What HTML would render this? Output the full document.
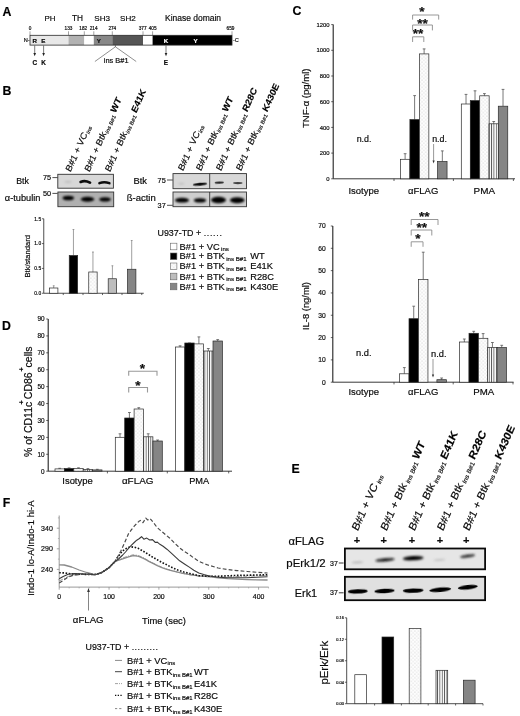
<!DOCTYPE html>
<html lang="en"><head><meta charset="utf-8"><title>Figure</title>
<style>
html,body{margin:0;padding:0;background:#fff;}
body{width:520px;height:716px;overflow:hidden;}
svg{display:block;filter:blur(0.35px);font-family:'Liberation Sans',sans-serif;}
svg{fill:#0a0a0a;}
svg text{stroke:#0a0a0a;stroke-width:0.18px;}
</style></head><body>
<svg width="520" height="716" viewBox="0 0 520 716">
<rect width="520" height="716" fill="#fff"/>
<defs>
<pattern id="dots" width="3.6" height="3.6" patternUnits="userSpaceOnUse"><rect width="3.6" height="3.6" fill="#fdfdfd"/><circle cx="0.9" cy="0.9" r="0.55" fill="#bdbdbd"/><circle cx="2.7" cy="2.7" r="0.55" fill="#cacaca"/></pattern>
<pattern id="vstr" width="2.35" height="4" patternUnits="userSpaceOnUse"><rect width="2.35" height="4" fill="#fff"/><rect x="0" y="0" width="0.85" height="4" fill="#555"/></pattern>
<filter id="b1" x="-30%" y="-100%" width="160%" height="300%"><feGaussianBlur stdDeviation="0.9"/></filter>
<filter id="b2" x="-30%" y="-100%" width="160%" height="300%"><feGaussianBlur stdDeviation="0.6"/></filter>
</defs>
<text x="2.4" y="16.2" font-size="12.3" font-weight="bold" fill="#000">A</text>
<text x="44.5" y="21.2" font-size="7.92">PH</text>
<text x="72" y="21.2" font-size="8.25">TH</text>
<text x="94.3" y="21.2" font-size="8.07">SH3</text>
<text x="120" y="21.2" font-size="8.07">SH2</text>
<text x="165" y="21.2" font-size="8.47">Kinase domain</text>
<rect x="30" y="35.3" width="38.5" height="9.8" fill="#e8e8e8" stroke="none" stroke-width="0"/>
<rect x="68.5" y="35.3" width="15.8" height="9.8" fill="#b2b2b2" stroke="none" stroke-width="0"/>
<rect x="84.3" y="35.3" width="9.5" height="9.8" fill="#fff" stroke="none" stroke-width="0"/>
<rect x="93.8" y="35.3" width="18.5" height="9.8" fill="#888" stroke="none" stroke-width="0"/>
<rect x="112.3" y="35.3" width="30.7" height="9.8" fill="#555" stroke="none" stroke-width="0"/>
<rect x="143" y="35.3" width="9.6" height="9.8" fill="#fff" stroke="none" stroke-width="0"/>
<rect x="152.6" y="35.3" width="79.4" height="9.8" fill="#000" stroke="none" stroke-width="0"/>
<rect x="30" y="35.3" width="202" height="9.8" fill="none" stroke="#2a2a2a" stroke-width="0.8"/>
<line x1="30" y1="31.3" x2="30" y2="35" stroke="#444" stroke-width="0.5"/>
<text x="30" y="30" font-size="4.7" text-anchor="middle">0</text>
<line x1="68.5" y1="31.3" x2="68.5" y2="35" stroke="#444" stroke-width="0.5"/>
<text x="68.5" y="30" font-size="4.7" text-anchor="middle">133</text>
<line x1="84.3" y1="31.3" x2="84.3" y2="35" stroke="#444" stroke-width="0.5"/>
<text x="83.2" y="30" font-size="4.7" text-anchor="middle">182</text>
<line x1="93.8" y1="31.3" x2="93.8" y2="35" stroke="#444" stroke-width="0.5"/>
<text x="93.6" y="30" font-size="4.7" text-anchor="middle">214</text>
<line x1="112.3" y1="31.3" x2="112.3" y2="35" stroke="#444" stroke-width="0.5"/>
<text x="112.3" y="30" font-size="4.7" text-anchor="middle">274</text>
<line x1="143" y1="31.3" x2="143" y2="35" stroke="#444" stroke-width="0.5"/>
<text x="142.6" y="30" font-size="4.7" text-anchor="middle">377</text>
<line x1="152.6" y1="31.3" x2="152.6" y2="35" stroke="#444" stroke-width="0.5"/>
<text x="152.6" y="30" font-size="4.7" text-anchor="middle">405</text>
<line x1="232" y1="31.3" x2="232" y2="35" stroke="#444" stroke-width="0.5"/>
<text x="230.5" y="30" font-size="4.7" text-anchor="middle">659</text>
<text x="23.8" y="42.2" font-size="5.6">N-</text>
<text x="233" y="42.2" font-size="5.6">-C</text>
<text x="34.7" y="42.6" font-size="6.2" text-anchor="middle" font-weight="bold">R</text>
<text x="43.4" y="42.6" font-size="6.2" text-anchor="middle" font-weight="bold">E</text>
<text x="98.8" y="42.6" font-size="6.2" text-anchor="middle" font-weight="bold">Y</text>
<text x="166" y="42.6" font-size="6.2" text-anchor="middle" font-weight="bold" fill="#fff" style="stroke:#fff">K</text>
<text x="195.5" y="42.6" font-size="6.2" text-anchor="middle" font-weight="bold" fill="#fff" style="stroke:#fff">Y</text>
<line x1="34.7" y1="45.6" x2="34.7" y2="54.28" stroke="#222" stroke-width="0.6"/>
<path d="M33.4,53 L34.7,56.2 L36,53 z" fill="#222"/>
<text x="34.7" y="65" font-size="6.4" text-anchor="middle" font-weight="bold">C</text>
<line x1="43.6" y1="45.6" x2="43.6" y2="54.28" stroke="#222" stroke-width="0.6"/>
<path d="M42.3,53 L43.6,56.2 L44.9,53 z" fill="#222"/>
<text x="43.6" y="65" font-size="6.4" text-anchor="middle" font-weight="bold">K</text>
<line x1="166" y1="45.6" x2="166" y2="54.28" stroke="#222" stroke-width="0.6"/>
<path d="M164.7,53 L166,56.2 L167.3,53 z" fill="#222"/>
<text x="166" y="65" font-size="6.4" text-anchor="middle" font-weight="bold">E</text>
<line x1="115.4" y1="45" x2="115.4" y2="47" stroke="#444" stroke-width="0.6"/>
<line x1="115.4" y1="46.8" x2="94.9" y2="61.5" stroke="#444" stroke-width="0.6"/>
<line x1="115.4" y1="46.8" x2="136.2" y2="61.5" stroke="#444" stroke-width="0.6"/>
<text x="103.8" y="63.4" font-size="7.41">ins B#1</text>
<text x="2.6" y="95" font-size="12.3" font-weight="bold" fill="#000">B</text>
<text transform="translate(70.6,172.5) scale(0.892,1.026) rotate(-63)" font-size="9.7">B#1 + VC<tspan font-size="5.8" dy="1.8" dx="0.8">ins</tspan></text>
<text transform="translate(89.4,172.5) scale(0.892,1.026) rotate(-63)" font-size="9.7">B#1 + Btk<tspan font-size="5.8" dy="1.8" dx="0.8">ins B#1</tspan><tspan font-weight="bold" dy="-1.8" dx="2.2" fill="#000">WT</tspan></text>
<text transform="translate(110.1,172.5) scale(0.892,1.026) rotate(-63)" font-size="9.7">B#1 + Btk<tspan font-size="5.8" dy="1.8" dx="0.8">ins B#1</tspan><tspan font-weight="bold" dy="-1.8" dx="2.2" fill="#000">E41K</tspan></text>
<text transform="translate(183.1,171.6) scale(0.892,1.026) rotate(-63)" font-size="9.7">B#1 + VC<tspan font-size="5.8" dy="1.8" dx="0.8">ins</tspan></text>
<text transform="translate(201.1,171.6) scale(0.892,1.026) rotate(-63)" font-size="9.7">B#1 + Btk<tspan font-size="5.8" dy="1.8" dx="0.8">ins B#1</tspan><tspan font-weight="bold" dy="-1.8" dx="2.2" fill="#000">WT</tspan></text>
<text transform="translate(221.1,171.6) scale(0.892,1.026) rotate(-63)" font-size="9.7">B#1 + Btk<tspan font-size="5.8" dy="1.8" dx="0.8">ins B#1</tspan><tspan font-weight="bold" dy="-1.8" dx="2.2" fill="#000">R28C</tspan></text>
<text transform="translate(241.1,171.6) scale(0.892,1.026) rotate(-63)" font-size="9.7">B#1 + Btk<tspan font-size="5.8" dy="1.8" dx="0.8">ins B#1</tspan><tspan font-weight="bold" dy="-1.8" dx="2.2" fill="#000">K430E</tspan></text>
<rect x="57.8" y="174.3" width="55.6" height="13.9" fill="#d8d8d8" stroke="#333" stroke-width="0.9"/>
<rect x="57.9" y="192" width="55.8" height="14.7" fill="#b0b0b0" stroke="#333" stroke-width="0.9"/>
<ellipse cx="68" cy="181.8" rx="3.5" ry="0.9" fill="#999" opacity="0.5" filter="url(#b1)"/>
<path d="M80.6,181.9 Q85,179.9 90,182.6" fill="none" stroke="#111" stroke-width="2.7" stroke-linecap="round" filter="url(#b2)"/>
<path d="M99.4,183.2 Q104.2,181.2 109.4,183.2" fill="none" stroke="#111" stroke-width="2.5" stroke-linecap="round" filter="url(#b2)"/>
<ellipse cx="68.3" cy="198" rx="5.75" ry="2.3" fill="#000" filter="url(#b1)"/>
<ellipse cx="87.5" cy="199.2" rx="6.6" ry="2.5" fill="#000" filter="url(#b1)"/>
<ellipse cx="105" cy="199.4" rx="5.8" ry="2.2" fill="#000" filter="url(#b1)"/>
<text x="16.2" y="184.4" font-size="8.86">Btk</text>
<text x="4.8" y="201.3" font-size="9.23">α-tubulin</text>
<text x="43" y="179.8" font-size="7.3">75</text>
<line x1="52.4" y1="177.6" x2="57.6" y2="177.6" stroke="#222" stroke-width="0.8"/>
<text x="43" y="196" font-size="7.3">50</text>
<line x1="52.4" y1="193.4" x2="57.6" y2="193.4" stroke="#222" stroke-width="0.8"/>
<rect x="173" y="173.6" width="73.5" height="15.1" fill="#d8d8d8" stroke="#333" stroke-width="0.9"/>
<rect x="173" y="192" width="73.5" height="14.7" fill="#cfcfcf" stroke="#333" stroke-width="0.9"/>
<line x1="209.7" y1="173.6" x2="209.7" y2="188.7" stroke="#222" stroke-width="0.8"/>
<line x1="209.7" y1="192" x2="209.7" y2="206.7" stroke="#222" stroke-width="0.8"/>
<ellipse cx="181.3" cy="183.8" rx="3.25" ry="0.8" fill="#999" opacity="0.5" filter="url(#b1)"/>
<ellipse cx="200" cy="184.2" rx="7.25" ry="1.5" fill="#111" filter="url(#b2)" transform="rotate(-5 200 184.2)"/>
<ellipse cx="219.3" cy="182.6" rx="4.7" ry="1.2" fill="#222" opacity="0.95" filter="url(#b2)" transform="rotate(-3 219.3 182.6)"/>
<ellipse cx="237.8" cy="183.1" rx="4.7" ry="1.1" fill="#333" opacity="0.9" filter="url(#b2)"/>
<ellipse cx="182" cy="200.2" rx="7" ry="2.4" fill="#000" filter="url(#b1)"/>
<ellipse cx="200" cy="200.4" rx="6.2" ry="2.2" fill="#000" filter="url(#b1)"/>
<ellipse cx="218.5" cy="200" rx="7.5" ry="3.2" fill="#000" filter="url(#b1)"/>
<ellipse cx="237.2" cy="200.2" rx="7.2" ry="3" fill="#000" filter="url(#b1)"/>
<text x="133.5" y="184.4" font-size="9.34">Btk</text>
<text x="126.7" y="201.3" font-size="9.52">ß-actin</text>
<text x="157.6" y="182.5" font-size="7.3">75</text>
<line x1="167" y1="180" x2="172.8" y2="180" stroke="#222" stroke-width="0.8"/>
<text x="157.6" y="207.5" font-size="7.3">37</text>
<line x1="167" y1="205.3" x2="172.8" y2="205.3" stroke="#222" stroke-width="0.8"/>
<line x1="43.75" y1="218.75" x2="43.75" y2="293.25" stroke="#222" stroke-width="0.8"/>
<line x1="43.75" y1="293.25" x2="143.75" y2="293.25" stroke="#222" stroke-width="0.8"/>
<line x1="41.95" y1="293.25" x2="43.75" y2="293.25" stroke="#222" stroke-width="0.7"/>
<text x="41.15" y="295.05" font-size="4.9" text-anchor="end">0.0</text>
<line x1="41.95" y1="268.42" x2="43.75" y2="268.42" stroke="#222" stroke-width="0.7"/>
<text x="41.15" y="270.22" font-size="4.9" text-anchor="end">0.5</text>
<line x1="41.95" y1="243.58" x2="43.75" y2="243.58" stroke="#222" stroke-width="0.7"/>
<text x="41.15" y="245.38" font-size="4.9" text-anchor="end">1.0</text>
<line x1="41.95" y1="218.75" x2="43.75" y2="218.75" stroke="#222" stroke-width="0.7"/>
<text x="41.15" y="220.55" font-size="4.9" text-anchor="end">1.5</text>
<line x1="63.25" y1="293.25" x2="63.25" y2="295.05" stroke="#222" stroke-width="0.7"/>
<line x1="83" y1="293.25" x2="83" y2="295.05" stroke="#222" stroke-width="0.7"/>
<line x1="102.5" y1="293.25" x2="102.5" y2="295.05" stroke="#222" stroke-width="0.7"/>
<line x1="122" y1="293.25" x2="122" y2="295.05" stroke="#222" stroke-width="0.7"/>
<line x1="141.75" y1="293.25" x2="141.75" y2="295.05" stroke="#222" stroke-width="0.7"/>
<text transform="translate(30.2,277.5) rotate(-90)" font-size="7.55">Btk/standard</text>
<line x1="53.7" y1="288" x2="53.7" y2="285.75" stroke="#777" stroke-width="0.7"/>
<line x1="52.8" y1="285.75" x2="54.6" y2="285.75" stroke="#777" stroke-width="0.7"/>
<rect x="49.5" y="288" width="8.4" height="5.25" fill="#fff" stroke="#2a2a2a" stroke-width="0.7"/>
<line x1="73.45" y1="255.5" x2="73.45" y2="229.5" stroke="#777" stroke-width="0.7"/>
<line x1="72.55" y1="229.5" x2="74.35" y2="229.5" stroke="#777" stroke-width="0.7"/>
<rect x="69.25" y="255.5" width="8.4" height="37.75" fill="#000" stroke="#2a2a2a" stroke-width="0.7"/>
<line x1="92.95" y1="272" x2="92.95" y2="252" stroke="#777" stroke-width="0.7"/>
<line x1="92.05" y1="252" x2="93.85" y2="252" stroke="#777" stroke-width="0.7"/>
<rect x="88.75" y="272" width="8.4" height="21.25" fill="url(#dots)" stroke="#2a2a2a" stroke-width="0.7"/>
<line x1="112.4" y1="278.75" x2="112.4" y2="265.75" stroke="#777" stroke-width="0.7"/>
<line x1="111.5" y1="265.75" x2="113.3" y2="265.75" stroke="#777" stroke-width="0.7"/>
<rect x="108.2" y="278.75" width="8.4" height="14.5" fill="#bdbdbd" stroke="#2a2a2a" stroke-width="0.7"/>
<line x1="131.7" y1="269.25" x2="131.7" y2="240.5" stroke="#777" stroke-width="0.7"/>
<line x1="130.8" y1="240.5" x2="132.6" y2="240.5" stroke="#777" stroke-width="0.7"/>
<rect x="127.5" y="269.25" width="8.4" height="24" fill="#858585" stroke="#2a2a2a" stroke-width="0.7"/>
<text x="157.5" y="235.6" font-size="8.9">U937-TD + <tspan letter-spacing="0.7">......</tspan></text>
<rect x="170.3" y="243.2" width="6.6" height="6.6" fill="#fff" stroke="#666" stroke-width="0.6"/>
<text x="179.6" y="249.6" font-size="9.3">B#1 + VC<tspan font-size="6.1" dy="1.8" dx="1.4">ins</tspan></text>
<rect x="170.3" y="253" width="6.6" height="6.6" fill="#000" stroke="#666" stroke-width="0.6"/>
<text x="179.6" y="259.4" font-size="9.3">B#1 + BTK<tspan font-size="6.1" dy="1.8" dx="1.4">ins B#1</tspan><tspan dy="-1.8" dx="3.7">WT</tspan></text>
<rect x="170.3" y="263" width="6.6" height="6.6" fill="url(#dots)" stroke="#666" stroke-width="0.6"/>
<text x="179.6" y="269.4" font-size="9.3">B#1 + BTK<tspan font-size="6.1" dy="1.8" dx="1.4">ins B#1</tspan><tspan dy="-1.8" dx="3.7">E41K</tspan></text>
<rect x="170.3" y="273.2" width="6.6" height="6.6" fill="#bdbdbd" stroke="#666" stroke-width="0.6"/>
<text x="179.6" y="279.6" font-size="9.3">B#1 + BTK<tspan font-size="6.1" dy="1.8" dx="1.4">ins B#1</tspan><tspan dy="-1.8" dx="3.7">R28C</tspan></text>
<rect x="170.3" y="283.2" width="6.6" height="6.6" fill="#858585" stroke="#666" stroke-width="0.6"/>
<text x="179.6" y="289.6" font-size="9.3">B#1 + BTK<tspan font-size="6.1" dy="1.8" dx="1.4">ins B#1</tspan><tspan dy="-1.8" dx="3.7">K430E</tspan></text>
<text x="292.6" y="14.9" font-size="12.3" font-weight="bold" fill="#000">C</text>
<line x1="333.2" y1="24.6" x2="333.2" y2="178.8" stroke="#222" stroke-width="1.1"/>
<line x1="333.2" y1="178.8" x2="515" y2="178.8" stroke="#222" stroke-width="0.9"/>
<line x1="331.2" y1="178.8" x2="333.2" y2="178.8" stroke="#222" stroke-width="0.7"/>
<text x="329.6" y="180.9" font-size="5.9" text-anchor="end">0</text>
<line x1="331.2" y1="153.1" x2="333.2" y2="153.1" stroke="#222" stroke-width="0.7"/>
<text x="329.6" y="155.2" font-size="5.9" text-anchor="end">200</text>
<line x1="331.2" y1="127.4" x2="333.2" y2="127.4" stroke="#222" stroke-width="0.7"/>
<text x="329.6" y="129.5" font-size="5.9" text-anchor="end">400</text>
<line x1="331.2" y1="101.7" x2="333.2" y2="101.7" stroke="#222" stroke-width="0.7"/>
<text x="329.6" y="103.8" font-size="5.9" text-anchor="end">600</text>
<line x1="331.2" y1="76" x2="333.2" y2="76" stroke="#222" stroke-width="0.7"/>
<text x="329.6" y="78.1" font-size="5.9" text-anchor="end">800</text>
<line x1="331.2" y1="50.3" x2="333.2" y2="50.3" stroke="#222" stroke-width="0.7"/>
<text x="329.6" y="52.4" font-size="5.9" text-anchor="end">1000</text>
<line x1="331.2" y1="24.6" x2="333.2" y2="24.6" stroke="#222" stroke-width="0.7"/>
<text x="329.6" y="26.7" font-size="5.9" text-anchor="end">1200</text>
<line x1="394" y1="178.8" x2="394" y2="181" stroke="#222" stroke-width="0.7"/>
<line x1="453.4" y1="178.8" x2="453.4" y2="181" stroke="#222" stroke-width="0.7"/>
<line x1="513.4" y1="178.8" x2="513.4" y2="181" stroke="#222" stroke-width="0.7"/>
<text transform="translate(308.8,128.1) rotate(-90)" font-size="9.55">TNF-α (pg/ml)</text>
<text x="356.7" y="141.8" font-size="8.87">n.d.</text>
<text x="432.2" y="142" font-size="8.87">n.d.</text>
<line x1="433.6" y1="144" x2="433.6" y2="161.7" stroke="#333" stroke-width="0.5"/>
<path d="M432.5,160.5 L433.6,163.5 L434.7,160.5 z" fill="#333"/>
<text x="348.4" y="193.8" font-size="9.49">Isotype</text>
<text x="408" y="193.8" font-size="9.5">αFLAG</text>
<text x="473.6" y="193.8" font-size="9.88">PMA</text>
<line x1="405.12" y1="159.3" x2="405.12" y2="153.7" stroke="#555" stroke-width="0.8"/>
<line x1="403.73" y1="153.7" x2="406.52" y2="153.7" stroke="#555" stroke-width="0.8"/>
<rect x="400.4" y="159.3" width="9.45" height="19.5" fill="#fff" stroke="#2a2a2a" stroke-width="0.7"/>
<line x1="414.62" y1="119.6" x2="414.62" y2="95.6" stroke="#555" stroke-width="0.8"/>
<line x1="413.23" y1="95.6" x2="416.02" y2="95.6" stroke="#555" stroke-width="0.8"/>
<rect x="409.9" y="119.6" width="9.45" height="59.2" fill="#000" stroke="#2a2a2a" stroke-width="0.7"/>
<line x1="424.12" y1="53.9" x2="424.12" y2="48.9" stroke="#555" stroke-width="0.8"/>
<line x1="422.73" y1="48.9" x2="425.52" y2="48.9" stroke="#555" stroke-width="0.8"/>
<rect x="419.4" y="53.9" width="9.45" height="124.9" fill="url(#dots)" stroke="#2a2a2a" stroke-width="0.7"/>
<line x1="442.33" y1="161.5" x2="442.33" y2="150.9" stroke="#555" stroke-width="0.8"/>
<line x1="440.93" y1="150.9" x2="443.73" y2="150.9" stroke="#555" stroke-width="0.8"/>
<rect x="437.6" y="161.5" width="9.45" height="17.3" fill="#858585" stroke="#2a2a2a" stroke-width="0.7"/>
<line x1="466.03" y1="104" x2="466.03" y2="94.4" stroke="#555" stroke-width="0.8"/>
<line x1="464.63" y1="94.4" x2="467.43" y2="94.4" stroke="#555" stroke-width="0.8"/>
<rect x="461.3" y="104" width="9.45" height="74.8" fill="#fff" stroke="#2a2a2a" stroke-width="0.7"/>
<line x1="475.03" y1="100.6" x2="475.03" y2="90.8" stroke="#555" stroke-width="0.8"/>
<line x1="473.63" y1="90.8" x2="476.43" y2="90.8" stroke="#555" stroke-width="0.8"/>
<rect x="470.3" y="100.6" width="9.45" height="78.2" fill="#000" stroke="#2a2a2a" stroke-width="0.7"/>
<line x1="484.43" y1="95.8" x2="484.43" y2="93.6" stroke="#555" stroke-width="0.8"/>
<line x1="483.03" y1="93.6" x2="485.82" y2="93.6" stroke="#555" stroke-width="0.8"/>
<rect x="479.7" y="95.8" width="9.45" height="83" fill="url(#dots)" stroke="#2a2a2a" stroke-width="0.7"/>
<line x1="493.73" y1="123.8" x2="493.73" y2="121.5" stroke="#555" stroke-width="0.8"/>
<line x1="492.33" y1="121.5" x2="495.12" y2="121.5" stroke="#555" stroke-width="0.8"/>
<rect x="489" y="123.8" width="9.45" height="55" fill="url(#vstr)" stroke="#2a2a2a" stroke-width="0.7"/>
<line x1="503.03" y1="106.2" x2="503.03" y2="89.4" stroke="#555" stroke-width="0.8"/>
<line x1="501.63" y1="89.4" x2="504.43" y2="89.4" stroke="#555" stroke-width="0.8"/>
<rect x="498.3" y="106.2" width="9.45" height="72.6" fill="#858585" stroke="#2a2a2a" stroke-width="0.7"/>
<path d="M412.6,19.6 V15 H438.7 V19.6" fill="none" stroke="#8c8c8c" stroke-width="0.9"/>
<text x="422" y="16.3" font-size="13.6" text-anchor="middle" font-weight="bold" fill="#111">*</text>
<path d="M412.6,30.4 V25 H432.4 V30.4" fill="none" stroke="#8c8c8c" stroke-width="0.9"/>
<text x="422.5" y="27.5" font-size="13.6" text-anchor="middle" font-weight="bold" fill="#111">**</text>
<path d="M412.6,42 V36.8 H423.8 V42" fill="none" stroke="#8c8c8c" stroke-width="0.9"/>
<text x="418" y="38" font-size="13.6" text-anchor="middle" font-weight="bold" fill="#111">**</text>
<line x1="332.8" y1="226" x2="332.8" y2="382.2" stroke="#222" stroke-width="1.1"/>
<line x1="332.8" y1="382.2" x2="513.6" y2="382.2" stroke="#222" stroke-width="0.9"/>
<line x1="330.8" y1="382.2" x2="332.8" y2="382.2" stroke="#222" stroke-width="0.7"/>
<text x="325.7" y="384.6" font-size="6.7" text-anchor="end">0</text>
<line x1="330.8" y1="359.89" x2="332.8" y2="359.89" stroke="#222" stroke-width="0.7"/>
<text x="325.7" y="362.29" font-size="6.7" text-anchor="end">10</text>
<line x1="330.8" y1="337.57" x2="332.8" y2="337.57" stroke="#222" stroke-width="0.7"/>
<text x="325.7" y="339.97" font-size="6.7" text-anchor="end">20</text>
<line x1="330.8" y1="315.26" x2="332.8" y2="315.26" stroke="#222" stroke-width="0.7"/>
<text x="325.7" y="317.66" font-size="6.7" text-anchor="end">30</text>
<line x1="330.8" y1="292.94" x2="332.8" y2="292.94" stroke="#222" stroke-width="0.7"/>
<text x="325.7" y="295.34" font-size="6.7" text-anchor="end">40</text>
<line x1="330.8" y1="270.63" x2="332.8" y2="270.63" stroke="#222" stroke-width="0.7"/>
<text x="325.7" y="273.03" font-size="6.7" text-anchor="end">50</text>
<line x1="330.8" y1="248.31" x2="332.8" y2="248.31" stroke="#222" stroke-width="0.7"/>
<text x="325.7" y="250.71" font-size="6.7" text-anchor="end">60</text>
<line x1="330.8" y1="226" x2="332.8" y2="226" stroke="#222" stroke-width="0.7"/>
<text x="325.7" y="228.4" font-size="6.7" text-anchor="end">70</text>
<line x1="394" y1="382.2" x2="394" y2="384.4" stroke="#222" stroke-width="0.7"/>
<line x1="453.2" y1="382.2" x2="453.2" y2="384.4" stroke="#222" stroke-width="0.7"/>
<line x1="513" y1="382.2" x2="513" y2="384.4" stroke="#222" stroke-width="0.7"/>
<text transform="translate(308.8,330) rotate(-90)" font-size="9.4">IL-8 (ng/ml)</text>
<text x="356" y="355.8" font-size="9.29">n.d.</text>
<text x="431" y="356.5" font-size="9.29">n.d.</text>
<line x1="433" y1="359" x2="433" y2="375.7" stroke="#333" stroke-width="0.5"/>
<path d="M431.9,374.5 L433,377.5 L434.1,374.5 z" fill="#333"/>
<text x="348.4" y="394.6" font-size="9.49">Isotype</text>
<text x="408" y="394.6" font-size="9.5">αFLAG</text>
<text x="473.2" y="394.6" font-size="9.69">PMA</text>
<line x1="404.33" y1="373.8" x2="404.33" y2="367.6" stroke="#555" stroke-width="0.8"/>
<line x1="402.93" y1="367.6" x2="405.73" y2="367.6" stroke="#555" stroke-width="0.8"/>
<rect x="399.6" y="373.8" width="9.45" height="8.4" fill="#fff" stroke="#2a2a2a" stroke-width="0.7"/>
<line x1="413.73" y1="318.7" x2="413.73" y2="306.2" stroke="#555" stroke-width="0.8"/>
<line x1="412.33" y1="306.2" x2="415.12" y2="306.2" stroke="#555" stroke-width="0.8"/>
<rect x="409" y="318.7" width="9.45" height="63.5" fill="#000" stroke="#2a2a2a" stroke-width="0.7"/>
<line x1="423.23" y1="279.6" x2="423.23" y2="252.2" stroke="#555" stroke-width="0.8"/>
<line x1="421.83" y1="252.2" x2="424.62" y2="252.2" stroke="#555" stroke-width="0.8"/>
<rect x="418.5" y="279.6" width="9.45" height="102.6" fill="url(#dots)" stroke="#2a2a2a" stroke-width="0.7"/>
<line x1="441.62" y1="379.7" x2="441.62" y2="378" stroke="#555" stroke-width="0.8"/>
<line x1="440.23" y1="378" x2="443.02" y2="378" stroke="#555" stroke-width="0.8"/>
<rect x="436.9" y="379.7" width="9.45" height="2.5" fill="#858585" stroke="#2a2a2a" stroke-width="0.7"/>
<line x1="464.33" y1="342" x2="464.33" y2="339" stroke="#555" stroke-width="0.8"/>
<line x1="462.93" y1="339" x2="465.73" y2="339" stroke="#555" stroke-width="0.8"/>
<rect x="459.6" y="342" width="9.45" height="40.2" fill="#fff" stroke="#2a2a2a" stroke-width="0.7"/>
<line x1="473.73" y1="333.3" x2="473.73" y2="331.3" stroke="#555" stroke-width="0.8"/>
<line x1="472.33" y1="331.3" x2="475.12" y2="331.3" stroke="#555" stroke-width="0.8"/>
<rect x="469" y="333.3" width="9.45" height="48.9" fill="#000" stroke="#2a2a2a" stroke-width="0.7"/>
<line x1="483.12" y1="338.3" x2="483.12" y2="333.6" stroke="#555" stroke-width="0.8"/>
<line x1="481.73" y1="333.6" x2="484.52" y2="333.6" stroke="#555" stroke-width="0.8"/>
<rect x="478.4" y="338.3" width="9.45" height="43.9" fill="url(#dots)" stroke="#2a2a2a" stroke-width="0.7"/>
<line x1="492.43" y1="347.5" x2="492.43" y2="342.5" stroke="#555" stroke-width="0.8"/>
<line x1="491.03" y1="342.5" x2="493.82" y2="342.5" stroke="#555" stroke-width="0.8"/>
<rect x="487.7" y="347.5" width="9.45" height="34.7" fill="url(#vstr)" stroke="#2a2a2a" stroke-width="0.7"/>
<line x1="501.73" y1="347.5" x2="501.73" y2="345.3" stroke="#555" stroke-width="0.8"/>
<line x1="500.33" y1="345.3" x2="503.12" y2="345.3" stroke="#555" stroke-width="0.8"/>
<rect x="497" y="347.5" width="9.45" height="34.7" fill="#858585" stroke="#2a2a2a" stroke-width="0.7"/>
<path d="M411.2,225 V219.5 H438 V225" fill="none" stroke="#8c8c8c" stroke-width="0.9"/>
<text x="424.2" y="221" font-size="13.6" text-anchor="middle" font-weight="bold" fill="#111">**</text>
<path d="M411.2,235.5 V230 H431.8 V235.5" fill="none" stroke="#8c8c8c" stroke-width="0.9"/>
<text x="421.8" y="231.8" font-size="13.6" text-anchor="middle" font-weight="bold" fill="#111">**</text>
<path d="M411.2,246.8 V241.8 H423 V246.8" fill="none" stroke="#8c8c8c" stroke-width="0.9"/>
<text x="418" y="243" font-size="13.6" text-anchor="middle" font-weight="bold" fill="#111">*</text>
<text x="2" y="329.5" font-size="12.3" font-weight="bold" fill="#000">D</text>
<line x1="48.2" y1="319" x2="48.2" y2="471.2" stroke="#222" stroke-width="1.1"/>
<line x1="48.2" y1="471.2" x2="232" y2="471.2" stroke="#222" stroke-width="0.9"/>
<line x1="46.2" y1="471.2" x2="48.2" y2="471.2" stroke="#222" stroke-width="0.7"/>
<text x="44.6" y="473.5" font-size="6.4" text-anchor="end">0</text>
<line x1="46.2" y1="454.29" x2="48.2" y2="454.29" stroke="#222" stroke-width="0.7"/>
<text x="44.6" y="456.59" font-size="6.4" text-anchor="end">10</text>
<line x1="46.2" y1="437.38" x2="48.2" y2="437.38" stroke="#222" stroke-width="0.7"/>
<text x="44.6" y="439.68" font-size="6.4" text-anchor="end">20</text>
<line x1="46.2" y1="420.47" x2="48.2" y2="420.47" stroke="#222" stroke-width="0.7"/>
<text x="44.6" y="422.77" font-size="6.4" text-anchor="end">30</text>
<line x1="46.2" y1="403.56" x2="48.2" y2="403.56" stroke="#222" stroke-width="0.7"/>
<text x="44.6" y="405.86" font-size="6.4" text-anchor="end">40</text>
<line x1="46.2" y1="386.64" x2="48.2" y2="386.64" stroke="#222" stroke-width="0.7"/>
<text x="44.6" y="388.94" font-size="6.4" text-anchor="end">50</text>
<line x1="46.2" y1="369.73" x2="48.2" y2="369.73" stroke="#222" stroke-width="0.7"/>
<text x="44.6" y="372.03" font-size="6.4" text-anchor="end">60</text>
<line x1="46.2" y1="352.82" x2="48.2" y2="352.82" stroke="#222" stroke-width="0.7"/>
<text x="44.6" y="355.12" font-size="6.4" text-anchor="end">70</text>
<line x1="46.2" y1="335.91" x2="48.2" y2="335.91" stroke="#222" stroke-width="0.7"/>
<text x="44.6" y="338.21" font-size="6.4" text-anchor="end">80</text>
<line x1="46.2" y1="319" x2="48.2" y2="319" stroke="#222" stroke-width="0.7"/>
<text x="44.6" y="321.3" font-size="6.4" text-anchor="end">90</text>
<line x1="107.4" y1="471.2" x2="107.4" y2="473.4" stroke="#222" stroke-width="0.7"/>
<line x1="167.3" y1="471.2" x2="167.3" y2="473.4" stroke="#222" stroke-width="0.7"/>
<line x1="228.7" y1="471.2" x2="228.7" y2="473.4" stroke="#222" stroke-width="0.7"/>
<text transform="translate(32.2,457) rotate(-90)" font-size="10.5">% of CD11c</text>
<text transform="translate(32.2,399.2) rotate(-90)" font-size="10.5">CD86</text>
<text transform="translate(32.2,367.4) rotate(-90)" font-size="10.5">cells</text>
<text transform="translate(23.6,404.4) rotate(-90)" font-size="7.4" font-weight="bold">+</text>
<text transform="translate(23.6,371.5) rotate(-90)" font-size="7.4" font-weight="bold">+</text>
<text x="62.3" y="484" font-size="9.43">Isotype</text>
<text x="121.9" y="484" font-size="9.91">αFLAG</text>
<text x="189.2" y="484" font-size="9.23">PMA</text>
<line x1="59.7" y1="468.9" x2="59.7" y2="468.3" stroke="#555" stroke-width="0.8"/>
<line x1="58.3" y1="468.3" x2="61.1" y2="468.3" stroke="#555" stroke-width="0.8"/>
<rect x="55" y="468.9" width="9.4" height="2.3" fill="#fff" stroke="#2a2a2a" stroke-width="0.7"/>
<line x1="69.1" y1="468.5" x2="69.1" y2="467.9" stroke="#555" stroke-width="0.8"/>
<line x1="67.7" y1="467.9" x2="70.5" y2="467.9" stroke="#555" stroke-width="0.8"/>
<rect x="64.4" y="468.5" width="9.4" height="2.7" fill="#000" stroke="#2a2a2a" stroke-width="0.7"/>
<line x1="78.5" y1="468.6" x2="78.5" y2="467.8" stroke="#555" stroke-width="0.8"/>
<line x1="77.1" y1="467.8" x2="79.9" y2="467.8" stroke="#555" stroke-width="0.8"/>
<rect x="73.8" y="468.6" width="9.4" height="2.6" fill="url(#dots)" stroke="#2a2a2a" stroke-width="0.7"/>
<line x1="87.9" y1="469.4" x2="87.9" y2="468.6" stroke="#555" stroke-width="0.8"/>
<line x1="86.5" y1="468.6" x2="89.3" y2="468.6" stroke="#555" stroke-width="0.8"/>
<rect x="83.2" y="469.4" width="9.4" height="1.8" fill="url(#vstr)" stroke="#2a2a2a" stroke-width="0.7"/>
<line x1="97.3" y1="469.9" x2="97.3" y2="469.3" stroke="#555" stroke-width="0.8"/>
<line x1="95.9" y1="469.3" x2="98.7" y2="469.3" stroke="#555" stroke-width="0.8"/>
<rect x="92.6" y="469.9" width="9.4" height="1.3" fill="#858585" stroke="#2a2a2a" stroke-width="0.7"/>
<line x1="120" y1="437.3" x2="120" y2="433.8" stroke="#555" stroke-width="0.8"/>
<line x1="118.6" y1="433.8" x2="121.4" y2="433.8" stroke="#555" stroke-width="0.8"/>
<rect x="115.3" y="437.3" width="9.4" height="33.9" fill="#fff" stroke="#2a2a2a" stroke-width="0.7"/>
<line x1="129.4" y1="418" x2="129.4" y2="412.5" stroke="#555" stroke-width="0.8"/>
<line x1="128" y1="412.5" x2="130.8" y2="412.5" stroke="#555" stroke-width="0.8"/>
<rect x="124.7" y="418" width="9.4" height="53.2" fill="#000" stroke="#2a2a2a" stroke-width="0.7"/>
<line x1="138.8" y1="409" x2="138.8" y2="407.7" stroke="#555" stroke-width="0.8"/>
<line x1="137.4" y1="407.7" x2="140.2" y2="407.7" stroke="#555" stroke-width="0.8"/>
<rect x="134.1" y="409" width="9.4" height="62.2" fill="url(#dots)" stroke="#2a2a2a" stroke-width="0.7"/>
<line x1="148.2" y1="436.8" x2="148.2" y2="433.8" stroke="#555" stroke-width="0.8"/>
<line x1="146.8" y1="433.8" x2="149.6" y2="433.8" stroke="#555" stroke-width="0.8"/>
<rect x="143.5" y="436.8" width="9.4" height="34.4" fill="url(#vstr)" stroke="#2a2a2a" stroke-width="0.7"/>
<line x1="157.6" y1="441" x2="157.6" y2="440" stroke="#555" stroke-width="0.8"/>
<line x1="156.2" y1="440" x2="159" y2="440" stroke="#555" stroke-width="0.8"/>
<rect x="152.9" y="441" width="9.4" height="30.2" fill="#858585" stroke="#2a2a2a" stroke-width="0.7"/>
<line x1="180.1" y1="347" x2="180.1" y2="345.8" stroke="#555" stroke-width="0.8"/>
<line x1="178.7" y1="345.8" x2="181.5" y2="345.8" stroke="#555" stroke-width="0.8"/>
<rect x="175.4" y="347" width="9.4" height="124.2" fill="#fff" stroke="#2a2a2a" stroke-width="0.7"/>
<line x1="189.5" y1="343" x2="189.5" y2="343" stroke="#555" stroke-width="0.8"/>
<line x1="188.1" y1="343" x2="190.9" y2="343" stroke="#555" stroke-width="0.8"/>
<rect x="184.8" y="343" width="9.4" height="128.2" fill="#000" stroke="#2a2a2a" stroke-width="0.7"/>
<line x1="198.9" y1="343.9" x2="198.9" y2="336.9" stroke="#555" stroke-width="0.8"/>
<line x1="197.5" y1="336.9" x2="200.3" y2="336.9" stroke="#555" stroke-width="0.8"/>
<rect x="194.2" y="343.9" width="9.4" height="127.3" fill="url(#dots)" stroke="#2a2a2a" stroke-width="0.7"/>
<line x1="208.3" y1="351" x2="208.3" y2="348.5" stroke="#555" stroke-width="0.8"/>
<line x1="206.9" y1="348.5" x2="209.7" y2="348.5" stroke="#555" stroke-width="0.8"/>
<rect x="203.6" y="351" width="9.4" height="120.2" fill="url(#vstr)" stroke="#2a2a2a" stroke-width="0.7"/>
<line x1="217.7" y1="341" x2="217.7" y2="339.6" stroke="#555" stroke-width="0.8"/>
<line x1="216.3" y1="339.6" x2="219.1" y2="339.6" stroke="#555" stroke-width="0.8"/>
<rect x="213" y="341" width="9.4" height="130.2" fill="#858585" stroke="#2a2a2a" stroke-width="0.7"/>
<path d="M128.7,375.8 V371.2 H157 V375.8" fill="none" stroke="#999" stroke-width="1.1"/>
<text x="142.5" y="372.7" font-size="13.6" text-anchor="middle" font-weight="bold" fill="#111">*</text>
<path d="M128.7,392.5 V387.5 H147.5 V392.5" fill="none" stroke="#999" stroke-width="1.1"/>
<text x="138" y="389.5" font-size="13.6" text-anchor="middle" font-weight="bold" fill="#111">*</text>
<text x="2.8" y="506.8" font-size="12.3" font-weight="bold" fill="#000">F</text>
<line x1="59.2" y1="515.5" x2="59.2" y2="587.1" stroke="#808080" stroke-width="0.8"/>
<line x1="59.2" y1="587.1" x2="268.7" y2="587.1" stroke="#808080" stroke-width="0.8"/>
<line x1="56.8" y1="569.4" x2="59.2" y2="569.4" stroke="#808080" stroke-width="0.7"/>
<text x="41.1" y="571.9" font-size="7">240</text>
<line x1="56.8" y1="548.8" x2="59.2" y2="548.8" stroke="#808080" stroke-width="0.7"/>
<text x="41.1" y="551.3" font-size="7">290</text>
<line x1="56.8" y1="528.2" x2="59.2" y2="528.2" stroke="#808080" stroke-width="0.7"/>
<text x="41.1" y="530.7" font-size="7">340</text>
<line x1="57.9" y1="579.7" x2="59.2" y2="579.7" stroke="#808080" stroke-width="0.5"/>
<line x1="57.9" y1="559.1" x2="59.2" y2="559.1" stroke="#808080" stroke-width="0.5"/>
<line x1="57.9" y1="538.5" x2="59.2" y2="538.5" stroke="#808080" stroke-width="0.5"/>
<line x1="57.9" y1="517.9" x2="59.2" y2="517.9" stroke="#808080" stroke-width="0.5"/>
<line x1="59.2" y1="587.1" x2="59.2" y2="589.7" stroke="#808080" stroke-width="0.7"/>
<line x1="69.17" y1="587.1" x2="69.17" y2="588.5" stroke="#808080" stroke-width="0.45"/>
<line x1="79.14" y1="587.1" x2="79.14" y2="588.5" stroke="#808080" stroke-width="0.45"/>
<line x1="89.11" y1="587.1" x2="89.11" y2="588.5" stroke="#808080" stroke-width="0.45"/>
<line x1="99.08" y1="587.1" x2="99.08" y2="588.5" stroke="#808080" stroke-width="0.45"/>
<line x1="109.05" y1="587.1" x2="109.05" y2="589.7" stroke="#808080" stroke-width="0.7"/>
<line x1="119.02" y1="587.1" x2="119.02" y2="588.5" stroke="#808080" stroke-width="0.45"/>
<line x1="128.99" y1="587.1" x2="128.99" y2="588.5" stroke="#808080" stroke-width="0.45"/>
<line x1="138.96" y1="587.1" x2="138.96" y2="588.5" stroke="#808080" stroke-width="0.45"/>
<line x1="148.93" y1="587.1" x2="148.93" y2="588.5" stroke="#808080" stroke-width="0.45"/>
<line x1="158.9" y1="587.1" x2="158.9" y2="589.7" stroke="#808080" stroke-width="0.7"/>
<line x1="168.87" y1="587.1" x2="168.87" y2="588.5" stroke="#808080" stroke-width="0.45"/>
<line x1="178.84" y1="587.1" x2="178.84" y2="588.5" stroke="#808080" stroke-width="0.45"/>
<line x1="188.81" y1="587.1" x2="188.81" y2="588.5" stroke="#808080" stroke-width="0.45"/>
<line x1="198.78" y1="587.1" x2="198.78" y2="588.5" stroke="#808080" stroke-width="0.45"/>
<line x1="208.75" y1="587.1" x2="208.75" y2="589.7" stroke="#808080" stroke-width="0.7"/>
<line x1="218.72" y1="587.1" x2="218.72" y2="588.5" stroke="#808080" stroke-width="0.45"/>
<line x1="228.69" y1="587.1" x2="228.69" y2="588.5" stroke="#808080" stroke-width="0.45"/>
<line x1="238.66" y1="587.1" x2="238.66" y2="588.5" stroke="#808080" stroke-width="0.45"/>
<line x1="248.63" y1="587.1" x2="248.63" y2="588.5" stroke="#808080" stroke-width="0.45"/>
<line x1="258.6" y1="587.1" x2="258.6" y2="589.7" stroke="#808080" stroke-width="0.7"/>
<line x1="268.57" y1="587.1" x2="268.57" y2="588.5" stroke="#808080" stroke-width="0.45"/>
<text x="59.2" y="598.6" font-size="6.9" text-anchor="middle">0</text>
<text x="109.05" y="598.6" font-size="6.9" text-anchor="middle">100</text>
<text x="158.9" y="598.6" font-size="6.9" text-anchor="middle">200</text>
<text x="208.75" y="598.6" font-size="6.9" text-anchor="middle">300</text>
<text x="258.6" y="598.6" font-size="6.9" text-anchor="middle">400</text>
<text transform="translate(33.7,595.8) rotate(-90)" font-size="9.47">Indo-1 lo-A/Indo-1 hi-A</text>
<line x1="88.5" y1="610.5" x2="88.5" y2="590.4" stroke="#333" stroke-width="0.6"/>
<path d="M87.1,592 L88.5,588 L89.9,592 z" fill="#333"/>
<text x="72.8" y="622.5" font-size="9.66">αFLAG</text>
<text x="142" y="623.5" font-size="9.39">Time (sec)</text>
<path d="M59.2,564.8 L64.19,565 L71.66,567 L79.14,570 L86.62,572.5 L93.1,574.2 L96.59,574.3 L101.57,572.6 L105.56,570 L109.25,567.5 L112.04,564.5 L115.03,561.5 L119.02,560.2 L122.71,558.8 L128.49,556.9 L133.28,555.7 L136.97,556 L139.96,556.9 L143.94,558.6 L147.73,560.8 L152.42,563.2 L157.3,565.6 L161.89,567.6 L166.88,569.4 L171.36,570.6 L176.55,571.9 L182.83,573.4 L190.01,574.7 L198.78,575.8 L208.5,576.7 L218.22,577.8 L227.69,578.7 L237.16,579.2 L246.98,579.6 L256.61,579.8 L267.57,580" fill="none" stroke="#8a8a8a" stroke-width="1.3" stroke-linejoin="round"/>
<path d="M59.2,581 L63.19,579 L68.17,576.5 L74.16,575 L84.12,574.4 L93.1,574.5 L96.59,574.3 L101.57,572.6 L105.56,570 L109.25,567.5 L112.04,564.5 L115.03,561.5 L119.02,559.6 L122.71,558 L128.49,556 L133.28,554.8 L136.97,555.2 L139.96,556.2 L143.94,558 L147.73,560.2 L152.42,562.8 L157.3,565.2 L161.89,567.3 L166.88,569 L171.36,570.4 L176.55,571.8 L182.83,573.4 L190.01,574.8 L198.78,576 L208.5,576.8 L218.22,577.2 L227.69,577 L237.16,576.6 L246.98,576.2 L256.61,575.8 L267.57,575.5" fill="none" stroke="#8a8a8a" stroke-width="0.9" stroke-linejoin="round" stroke-dasharray="4 1.4 1 1.4"/>
<path d="M59.2,572.7 L64.19,572.9 L71.66,573.9 L79.14,574.2 L86.62,574.4 L93.1,574.5 L96.59,574.3 L101.57,572.6 L105.56,570 L109.25,567.5 L112.04,564.5 L115.03,561.5 L117.77,557 L120.76,553 L123.51,550.3 L126.5,548.3 L128.99,547.3 L131.33,546.9 L134.47,547.3 L138.06,548.3 L142.95,551 L147.73,554 L152.42,557 L157.3,559.8 L161.89,562.4 L166.88,564.8 L169.87,566.5 L173.86,568.4 L177.84,570 L183.82,572 L189.81,573.5 L198.78,575.6 L208.5,576.2 L218.22,576.2 L227.69,575.8 L237.16,575.4 L246.98,575.2 L256.61,575 L267.57,574.8" fill="none" stroke="#111" stroke-width="1.6" stroke-linejoin="round" stroke-dasharray="1.6 1.6"/>
<path d="M59.2,578.8 L63.19,576.5 L68.17,574.2 L74.16,573.6 L81.63,573.9 L89.11,574.3 L94.09,574.6 L96.59,574.3 L101.57,572.6 L105.56,570 L109.25,567.5 L112.04,564.5 L115.03,561.5 L118.52,559 L122.71,555 L125.5,552 L128.49,548.3 L131.48,545.2 L134.22,542.5 L136.72,540.2 L139.06,538.7 L141.55,536.7 L143.85,539.2 L146.74,538.1 L149.63,540 L152.52,539.6 L155.41,542.5 L157.3,542.1 L159.9,544.3 L163.09,546.3 L166.88,549.2 L170.76,552.6 L175.35,556.8 L179.64,560.8 L184.82,564.2 L189.31,567.1 L193.8,570.2 L198.78,572.9 L203.76,574.6 L208.5,575.8 L218.22,577.3 L227.69,577.7 L237.16,577.7 L246.98,577.7 L256.61,577.2 L267.57,576.7" fill="none" stroke="#3a3a3a" stroke-width="1.1" stroke-linejoin="round"/>
<path d="M59.2,583 L63.19,580.5 L68.17,577 L74.16,575 L81.63,574.4 L89.11,574.3 L94.09,574.6 L96.59,574.3 L101.57,572.6 L105.56,570 L109.25,567.5 L112.04,564.5 L115.03,561.5 L117.77,556.5 L120.76,551.2 L124.5,543 L128.49,533.8 L131.48,529.6 L134.22,526.2 L136.97,523.3 L138.96,521.3 L140.46,520.4 L142.95,522.7 L145.79,518.1 L147.73,520 L150.08,518.5 L152.92,522 L157.3,527.7 L161.89,531.6 L166.88,535.8 L169.87,538.3 L174.85,543.3 L179.64,547.9 L184.32,551.5 L189.31,554.6 L193.8,558 L198.78,561.3 L203.76,563.5 L208.5,565.2 L218.22,568 L227.69,569.6 L237.16,570.6 L247.13,571.5 L256.61,572.3 L267.57,573" fill="none" stroke="#4a4a4a" stroke-width="1.2" stroke-linejoin="round" stroke-dasharray="3.8 2.2"/>
<text x="85.5" y="649.75" font-size="8.9">U937-TD + <tspan letter-spacing="0.53">.........</tspan></text>
<line x1="115" y1="660.4" x2="122" y2="660.4" stroke="#8a8a8a" stroke-width="1.0"/>
<text x="127" y="664" font-size="9.4">B#1 + VC<tspan font-size="5.9" dy="1.4" dx="0.2">ins</tspan></text>
<line x1="115" y1="671.7" x2="122" y2="671.7" stroke="#444" stroke-width="1.0"/>
<text x="127" y="675.3" font-size="9.4">B#1 + BTK<tspan font-size="5.9" dy="1.4" dx="0.2">ins B#1</tspan><tspan dy="-1.4" dx="1.6">WT</tspan></text>
<line x1="115" y1="683.6" x2="122" y2="683.6" stroke="#8a8a8a" stroke-width="0.8" stroke-dasharray="3 1 1 1"/>
<text x="127" y="687.2" font-size="9.4">B#1 + BTK<tspan font-size="5.9" dy="1.4" dx="0.2">ins B#1</tspan><tspan dy="-1.4" dx="1.6">E41K</tspan></text>
<line x1="115" y1="695.4" x2="122" y2="695.4" stroke="#111" stroke-width="1.3" stroke-dasharray="1.3 1.4"/>
<text x="127" y="699" font-size="9.4">B#1 + BTK<tspan font-size="5.9" dy="1.4" dx="0.2">ins B#1</tspan><tspan dy="-1.4" dx="1.6">R28C</tspan></text>
<line x1="115" y1="708.6" x2="122" y2="708.6" stroke="#666" stroke-width="0.8" stroke-dasharray="2.2 2"/>
<text x="127" y="712.2" font-size="9.4">B#1 + BTK<tspan font-size="5.9" dy="1.4" dx="0.2">ins B#1</tspan><tspan dy="-1.4" dx="1.6">K430E</tspan></text>
<text x="291.5" y="472.8" font-size="12.3" font-weight="bold" fill="#000">E</text>
<text transform="translate(357.8,531.6) scale(0.892,1.026) rotate(-63)" font-size="11.6">B#1 + VC<tspan font-size="6.8" dy="1.8" dx="2.4">ins</tspan></text>
<text transform="translate(386.5,531.6) scale(0.892,1.026) rotate(-63)" font-size="11.6">B#1 + Btk<tspan font-size="6.8" dy="1.8" dx="2.4">ins B#1</tspan><tspan font-weight="bold" dy="-1.8" dx="2.6" fill="#000">WT</tspan></text>
<text transform="translate(414.5,531.6) scale(0.892,1.026) rotate(-63)" font-size="11.6">B#1 + Btk<tspan font-size="6.8" dy="1.8" dx="2.4">ins B#1</tspan><tspan font-weight="bold" dy="-1.8" dx="2.6" fill="#000">E41K</tspan></text>
<text transform="translate(442.9,531.6) scale(0.892,1.026) rotate(-63)" font-size="11.6">B#1 + Btk<tspan font-size="6.8" dy="1.8" dx="2.4">ins B#1</tspan><tspan font-weight="bold" dy="-1.8" dx="2.6" fill="#000">R28C</tspan></text>
<text transform="translate(469,531.6) scale(0.892,1.026) rotate(-63)" font-size="11.6">B#1 + Btk<tspan font-size="6.8" dy="1.8" dx="2.4">ins B#1</tspan><tspan font-weight="bold" dy="-1.8" dx="2.6" fill="#000">K430E</tspan></text>
<text x="288.4" y="545.2" font-size="11.22">αFLAG</text>
<text x="357" y="543.6" font-size="11" text-anchor="middle" font-weight="bold">+</text>
<text x="383.6" y="543.6" font-size="11" text-anchor="middle" font-weight="bold">+</text>
<text x="412" y="543.6" font-size="11" text-anchor="middle" font-weight="bold">+</text>
<text x="439.9" y="543.6" font-size="11" text-anchor="middle" font-weight="bold">+</text>
<text x="466.1" y="543.6" font-size="11" text-anchor="middle" font-weight="bold">+</text>
<rect x="344.9" y="548.5" width="140.2" height="20.8" fill="#e6e6e6" stroke="#0a0a0a" stroke-width="1.8"/>
<rect x="344.9" y="576.8" width="140.2" height="23.4" fill="#e0e0e0" stroke="#0a0a0a" stroke-width="1.8"/>
<ellipse cx="357.4" cy="562.3" rx="6" ry="0.9" fill="#888" opacity="0.55" filter="url(#b1)" transform="rotate(-3 357.4 562.3)"/>
<ellipse cx="385" cy="559.9" rx="9.75" ry="1.6" fill="#111" filter="url(#b1)" transform="rotate(-5 385 559.9)"/>
<ellipse cx="413.2" cy="558.2" rx="10.5" ry="2.1" fill="#000" filter="url(#b1)" transform="rotate(-3 413.2 558.2)"/>
<ellipse cx="439.4" cy="559.9" rx="6" ry="0.9" fill="#999" opacity="0.5" filter="url(#b1)" transform="rotate(-4 439.4 559.9)"/>
<ellipse cx="467.6" cy="556.1" rx="7.75" ry="1.5" fill="#222" opacity="0.95" filter="url(#b1)" transform="rotate(-8 467.6 556.1)"/>
<ellipse cx="357.8" cy="591.4" rx="10" ry="2.2" fill="#000" filter="url(#b2)" transform="rotate(-2 357.8 591.4)"/>
<ellipse cx="384.5" cy="591" rx="10.25" ry="2.2" fill="#000" filter="url(#b2)" transform="rotate(-3 384.5 591)"/>
<ellipse cx="413.2" cy="590.6" rx="10.5" ry="2.2" fill="#000" filter="url(#b2)" transform="rotate(-2 413.2 590.6)"/>
<ellipse cx="440.2" cy="589.7" rx="11" ry="2.2" fill="#000" filter="url(#b2)" transform="rotate(-5 440.2 589.7)"/>
<ellipse cx="467.8" cy="587.2" rx="10" ry="2.2" fill="#000" filter="url(#b2)" transform="rotate(-6 467.8 587.2)"/>
<text x="286.3" y="566.5" font-size="11.43">pErk1/2</text>
<text x="294.8" y="597.3" font-size="10.89">Erk1</text>
<text x="330" y="565.5" font-size="7">37</text>
<line x1="338.8" y1="563" x2="343.6" y2="563" stroke="#222" stroke-width="0.9"/>
<text x="330" y="595.3" font-size="7">37</text>
<line x1="338.8" y1="592.8" x2="343.6" y2="592.8" stroke="#222" stroke-width="0.9"/>
<line x1="346.7" y1="617.8" x2="346.7" y2="703.7" stroke="#222" stroke-width="0.8"/>
<line x1="346.7" y1="703.7" x2="483" y2="703.7" stroke="#222" stroke-width="0.8"/>
<line x1="344.9" y1="703.7" x2="346.7" y2="703.7" stroke="#222" stroke-width="0.7"/>
<text x="343.9" y="705.1" font-size="3.9" text-anchor="end">0.00</text>
<line x1="344.9" y1="682.23" x2="346.7" y2="682.23" stroke="#222" stroke-width="0.7"/>
<text x="343.9" y="683.62" font-size="3.9" text-anchor="end">0.04</text>
<line x1="344.9" y1="660.75" x2="346.7" y2="660.75" stroke="#222" stroke-width="0.7"/>
<text x="343.9" y="662.15" font-size="3.9" text-anchor="end">0.08</text>
<line x1="344.9" y1="639.27" x2="346.7" y2="639.27" stroke="#222" stroke-width="0.7"/>
<text x="343.9" y="640.67" font-size="3.9" text-anchor="end">0.12</text>
<line x1="344.9" y1="617.8" x2="346.7" y2="617.8" stroke="#222" stroke-width="0.7"/>
<text x="343.9" y="619.2" font-size="3.9" text-anchor="end">0.16</text>
<line x1="374.6" y1="703.7" x2="374.6" y2="705.5" stroke="#222" stroke-width="0.7"/>
<line x1="401.4" y1="703.7" x2="401.4" y2="705.5" stroke="#222" stroke-width="0.7"/>
<line x1="428.2" y1="703.7" x2="428.2" y2="705.5" stroke="#222" stroke-width="0.7"/>
<line x1="455.6" y1="703.7" x2="455.6" y2="705.5" stroke="#222" stroke-width="0.7"/>
<line x1="483" y1="703.7" x2="483" y2="705.5" stroke="#222" stroke-width="0.7"/>
<text transform="translate(328.3,684.6) rotate(-90)" font-size="11.4">pErk/Erk</text>
<rect x="354.8" y="674.7" width="11.7" height="29" fill="#fff" stroke="#2a2a2a" stroke-width="0.7"/>
<rect x="382" y="637" width="11.7" height="66.7" fill="#000" stroke="#2a2a2a" stroke-width="0.7"/>
<rect x="409.2" y="628.6" width="11.7" height="75.1" fill="url(#dots)" stroke="#2a2a2a" stroke-width="0.7"/>
<rect x="436" y="670.3" width="11.7" height="33.4" fill="url(#vstr)" stroke="#2a2a2a" stroke-width="0.7"/>
<rect x="463.4" y="680.2" width="11.7" height="23.5" fill="#858585" stroke="#2a2a2a" stroke-width="0.7"/>
</svg>
</body></html>
